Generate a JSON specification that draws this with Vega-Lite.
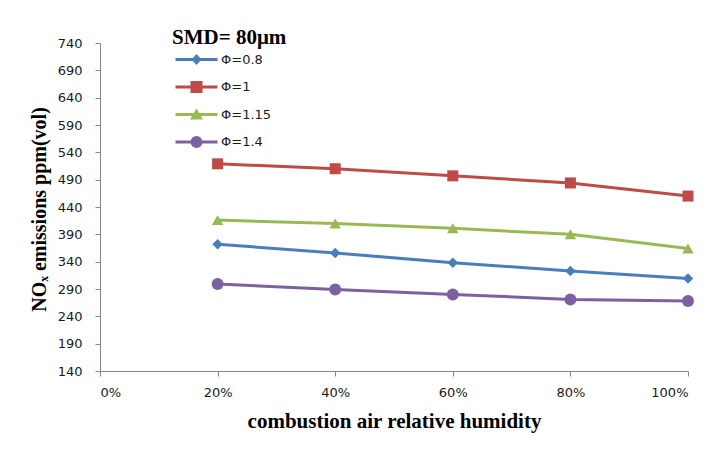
{
  "$schema": "https://vega.github.io/schema/vega-lite/v6.json",
  "autosize": "none",
  "width": 588,
  "height": 328,
  "padding": {"left": 100, "top": 43, "right": 27, "bottom": 79},
  "background": "white",
  "config": {
    "view": {"stroke": null},
    "axis": {"grid": false, "domainColor": "#868686", "tickColor": "#868686", "domainWidth": 1, "tickWidth": 1, "labelColor": "#1a1a1a", "labelFont": "DejaVu Sans", "labelFontSize": 13, "titleFont": "Liberation Serif", "titleFontWeight": "bold", "titleColor": "#000000"},
    "legend": {
      "orient": "none",
      "legendX": 72,
      "legendY": -16,
      "padding": 0,
      "titleFont": "Liberation Serif",
      "titleFontWeight": "bold",
      "titleFontSize": 21,
      "titleColor": "#000000",
      "titlePadding": 5,
      "labelFont": "DejaVu Sans",
      "labelFontSize": 13,
      "labelColor": "#1a1a1a",
      "labelOffset": 18,
      "symbolOffset": 18,
      "symbolSize": 100,
      "symbolOpacity": 1,
      "symbolStrokeWidth": 0,
      "rowPadding": 13.5
    }
  },
  "data": {
    "values": [
      {"h": 20, "v": 372, "s": "Φ=0.8"},
      {"h": 40, "v": 356, "s": "Φ=0.8"},
      {"h": 60, "v": 338, "s": "Φ=0.8"},
      {"h": 80, "v": 323, "s": "Φ=0.8"},
      {"h": 100, "v": 309, "s": "Φ=0.8"},
      {"h": 20, "v": 519, "s": "Φ=1"},
      {"h": 40, "v": 510, "s": "Φ=1"},
      {"h": 60, "v": 497, "s": "Φ=1"},
      {"h": 80, "v": 484, "s": "Φ=1"},
      {"h": 100, "v": 460, "s": "Φ=1"},
      {"h": 20, "v": 416, "s": "Φ=1.15"},
      {"h": 40, "v": 410, "s": "Φ=1.15"},
      {"h": 60, "v": 401, "s": "Φ=1.15"},
      {"h": 80, "v": 390, "s": "Φ=1.15"},
      {"h": 100, "v": 364, "s": "Φ=1.15"},
      {"h": 20, "v": 299, "s": "Φ=1.4"},
      {"h": 40, "v": 289, "s": "Φ=1.4"},
      {"h": 60, "v": 280, "s": "Φ=1.4"},
      {"h": 80, "v": 271, "s": "Φ=1.4"},
      {"h": 100, "v": 268, "s": "Φ=1.4"}
    ]
  },
  "encoding": {
    "x": {
      "field": "h", "type": "quantitative",
      "scale": {"domain": [0, 100], "nice": false},
      "axis": {"values": [0, 20, 40, 60, 80, 100], "labelExpr": "datum.value + '%'", "tickSize": 5, "labelPadding": 10, "title": "combustion  air relative humidity", "titleFontSize": 21, "titleBaseline": "alphabetic", "titleY": 56}
    },
    "y": {
      "field": "v", "type": "quantitative",
      "scale": {"domain": [140, 740], "nice": false, "zero": false},
      "axis": {"values": [140, 190, 240, 290, 340, 390, 440, 490, 540, 590, 640, 690, 740], "tickSize": 5, "labelPadding": 13, "title": "NOₓ emissions ppm(vol)", "titleFontSize": 20, "titleBaseline": "alphabetic", "titleX": -55, "titleY": 166}
    }
  },
  "layer": [
    {
      "mark": {"type": "line", "strokeWidth": 3},
      "encoding": {
        "color": {"field": "s", "type": "nominal", "scale": {"domain": ["Φ=0.8", "Φ=1", "Φ=1.15", "Φ=1.4"], "range": ["#4A7EBB", "#BE4B48", "#98B954", "#7D60A0"]}, "legend": null}
      }
    },
    {
      "mark": {"type": "point", "filled": true, "opacity": 1},
      "encoding": {
        "color": {"field": "s", "type": "nominal", "scale": {"domain": ["Φ=0.8", "Φ=1", "Φ=1.15", "Φ=1.4"], "range": ["#4A7EBB", "#BE4B48", "#98B954", "#7D60A0"]}, "legend": null},
        "shape": {"field": "s", "type": "nominal", "scale": {"domain": ["Φ=0.8", "Φ=1", "Φ=1.15", "Φ=1.4"], "range": ["diamond", "square", "triangle-up", "circle"]}, "legend": null},
        "size": {"field": "s", "type": "nominal", "scale": {"domain": ["Φ=0.8", "Φ=1", "Φ=1.15", "Φ=1.4"], "range": [110, 144, 170, 144]}, "legend": null}
      }
    },
    {
      "transform": [{"filter": "datum.h < 0"}],
      "mark": {"type": "point", "filled": true, "opacity": 1, "size": 100},
      "encoding": {
        "color": {"field": "s", "type": "nominal", "scale": {"domain": ["Φ=0.8", "Φ=1", "Φ=1.15", "Φ=1.4"], "range": ["#4A7EBB", "#BE4B48", "#98B954", "#7D60A0"]}, "legend": {"title": "SMD= 80μm"}},
        "shape": {
          "field": "s", "type": "nominal",
          "scale": {"domain": ["Φ=0.8", "Φ=1", "Φ=1.15", "Φ=1.4"], "range": [
            "M-4.2,-0.3L4.2,-0.3L4.2,0.3L-4.2,0.3ZM0,-1.1L1,0L0,1.1L-1,0Z",
            "M-4.2,-0.3L4.2,-0.3L4.2,0.3L-4.2,0.3ZM-1.2,-1.2L1.2,-1.2L1.2,1.2L-1.2,1.2Z",
            "M-4.2,-0.3L4.2,-0.3L4.2,0.3L-4.2,0.3ZM0,-1.2L1.3,1L-1.3,1Z",
            "M-4.2,-0.3L4.2,-0.3L4.2,0.3L-4.2,0.3ZM1.2,0L1.109,0.459L0.849,0.849L0.459,1.109L0,1.2L-0.459,1.109L-0.849,0.849L-1.109,0.459L-1.2,0L-1.109,-0.459L-0.849,-0.849L-0.459,-1.109L0,-1.2L0.459,-1.109L0.849,-0.849L1.109,-0.459Z"
          ]},
          "legend": {"title": "SMD= 80μm"}
        }
      }
    }
  ],
  "resolve": {"scale": {"shape": "independent", "color": "independent"}}
}
